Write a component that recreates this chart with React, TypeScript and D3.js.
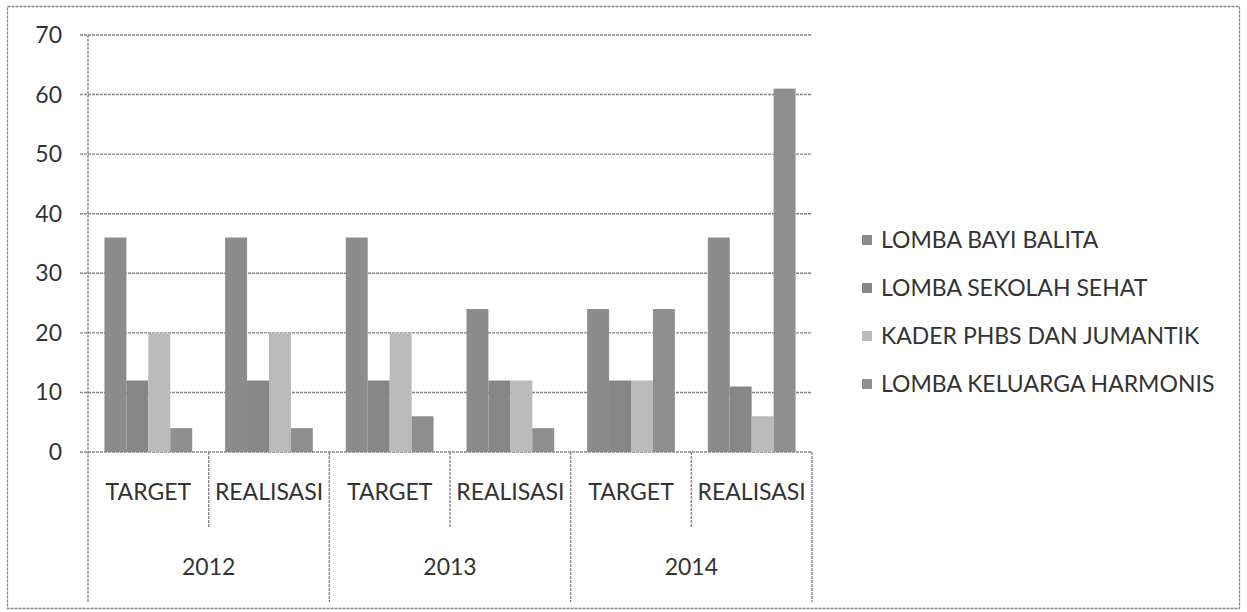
import React from "react";
import * as d3 from "d3";

const years = ["2012", "2013", "2014"];
const subCategories = ["TARGET", "REALISASI", "TARGET", "REALISASI", "TARGET", "REALISASI"];
const seriesNames = [
  "LOMBA BAYI BALITA",
  "LOMBA SEKOLAH SEHAT",
  "KADER PHBS DAN JUMANTIK",
  "LOMBA KELUARGA HARMONIS",
];
const lombaBayiBalita = [36, 36, 36, 24, 24, 36];
const lombaSekolahSehat = [12, 12, 12, 12, 12, 11];
const kaderPhbs = [20, 20, 20, 12, 12, 6];
const lombaKeluargaHarmonis = [4, 4, 6, 4, 24, 61];
const yTicks = [0, 10, 20, 30, 40, 50, 60, 70];

const seriesValues = [lombaBayiBalita, lombaSekolahSehat, kaderPhbs, lombaKeluargaHarmonis];
const seriesColors = ["#8c8c8c", "#868686", "#bababa", "#8f8f8f"];

const W = 1247;
const H = 612;
const plotL = 88;
const plotR = 812;
const plotT = 35;
const plotB = 452;
const FONT = "Lato, Carlito, 'Open Sans', sans-serif";
const TEXT = "#333333";
const LINE = "#858585";
const DASH = "3 1";
const FS = 23;

export default function App() {
  const catIdx = subCategories.map((_, i) => String(i));
  const x0 = d3.scaleBand<string>().domain(catIdx).range([plotL, plotR]).padding(0);
  const x1 = d3
    .scaleBand<string>()
    .domain(seriesNames)
    .range([0, x0.bandwidth()])
    .paddingInner(0)
    .paddingOuter(0.75);
  const y = d3.scaleLinear().domain([0, 70]).range([plotB, plotT]);

  const yearW = x0.bandwidth() * 2;

  return (
    <svg
      width={W}
      height={H}
      style={{ position: "absolute", left: 0, top: 0, background: "#fff" }}
      fontFamily={FONT}
    >
      <rect x={0} y={0} width={W} height={H} fill="#fff" />
      {/* outer border */}
      <rect
        x={7.5}
        y={6.5}
        width={1232}
        height={602}
        fill="none"
        stroke={LINE}
        strokeWidth={1.3}
        strokeDasharray={DASH}
      />
      {/* gridlines */}
      {yTicks.map((t) => (
        <line
          key={"g" + t}
          x1={plotL - 8}
          x2={plotR}
          y1={y(t)}
          y2={y(t)}
          stroke={LINE}
          strokeWidth={1.4}
          strokeDasharray={DASH}
        />
      ))}
      {/* y tick labels */}
      {yTicks.map((t) => (
        <text
          key={"t" + t}
          x={62}
          y={y(t)}
          dy="0.35em"
          textAnchor="end"
          fontSize={FS}
          fill={TEXT}
        >
          {t}
        </text>
      ))}
      {/* bars */}
      {subCategories.map((_, ci) => (
        <g key={"c" + ci} transform={`translate(${x0(String(ci))},0)`}>
          {seriesNames.map((s, si) => {
            const v = seriesValues[si][ci];
            return (
              <rect
                key={s}
                x={x1(s)}
                y={y(v)}
                width={x1.bandwidth()}
                height={y(0) - y(v)}
                fill={seriesColors[si]}
              />
            );
          })}
        </g>
      ))}
      {/* y axis line */}
      <line
        x1={plotL}
        x2={plotL}
        y1={plotT}
        y2={602}
        stroke={LINE}
        strokeWidth={1.3}
        strokeDasharray={DASH}
      />
      {/* category separators */}
      {subCategories.map((_, ci) => {
        const xe = (x0(String(ci)) as number) + x0.bandwidth();
        const isYearEnd = ci % 2 === 1;
        return (
          <line
            key={"s" + ci}
            x1={xe}
            x2={xe}
            y1={plotB}
            y2={isYearEnd ? 602 : 528}
            stroke={LINE}
            strokeWidth={1.3}
            strokeDasharray={DASH}
          />
        );
      })}
      {/* sub category labels */}
      {subCategories.map((c, ci) => (
        <text
          key={"l" + ci}
          x={(x0(String(ci)) as number) + x0.bandwidth() / 2}
          y={492}
          dy="0.35em"
          textAnchor="middle"
          fontSize={FS}
          fill={TEXT}
        >
          {c}
        </text>
      ))}
      {/* year labels */}
      {years.map((yr, yi) => (
        <text
          key={"y" + yr}
          x={plotL + yearW * yi + yearW / 2}
          y={567}
          dy="0.35em"
          textAnchor="middle"
          fontSize={FS}
          fill={TEXT}
        >
          {yr}
        </text>
      ))}
      {/* legend */}
      {seriesNames.map((s, si) => (
        <g key={"lg" + s} transform={`translate(862, ${240 + si * 48})`}>
          <rect x={0} y={-5} width={10} height={10} fill={seriesColors[si]} />
          <text x={19} y={0} dy="0.35em" fontSize={FS} fill={TEXT}>
            {s}
          </text>
        </g>
      ))}
    </svg>
  );
}
